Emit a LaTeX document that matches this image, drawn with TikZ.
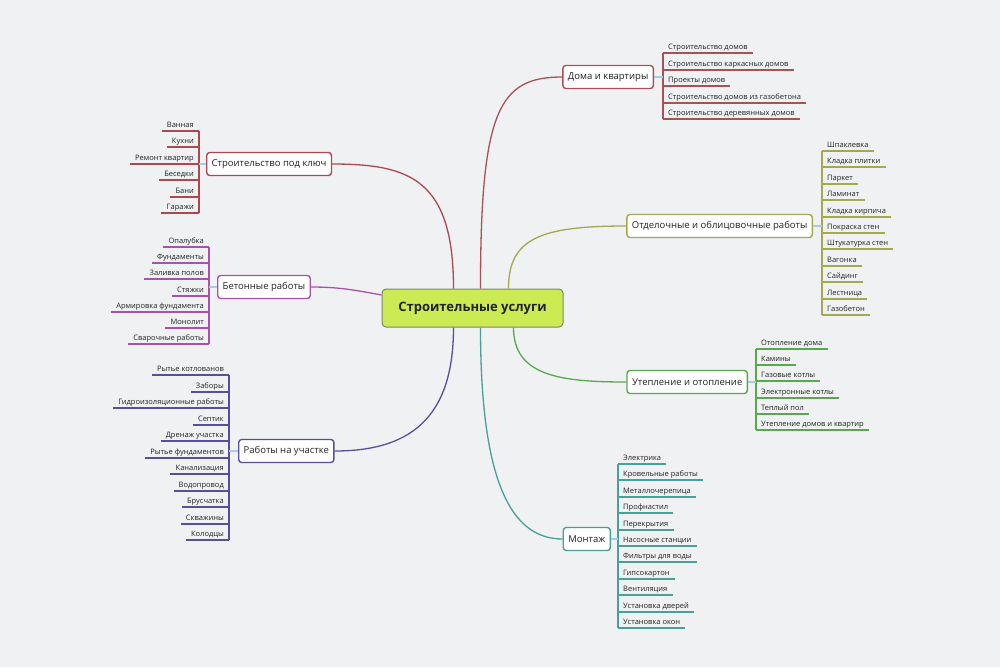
\documentclass[tikz,border=0pt]{standalone}
\usepackage{fontspec}
\setmainfont{Open Sans}
\usetikzlibrary{calc}
\definecolor{bg}{RGB}{240,241,243}
\definecolor{cRed}{RGB}{168,82,88}
\definecolor{cKey}{RGB}{172,72,82}
\definecolor{cOlive}{RGB}{165,168,78}
\definecolor{cGreen}{RGB}{88,168,78}
\definecolor{cTeal}{RGB}{72,160,150}
\definecolor{cIndigo}{RGB}{88,78,160}
\definecolor{cPurple}{RGB}{168,82,172}
\definecolor{lime}{RGB}{203,234,84}
\definecolor{limeBorder}{RGB}{125,135,100}
\definecolor{junc}{RGB}{160,205,235}
\definecolor{txt}{RGB}{35,35,35}
\tikzset{
  topic/.style={draw, line width=1.4pt, fill=white, rounded corners=3pt, inner xsep=5pt, inner ysep=0pt, minimum height=23pt, font=\fontsize{9.5}{11}\selectfont, text=txt},
  itemR/.style={anchor=south west, inner xsep=5pt, inner ysep=1.5pt, text height=6pt, text depth=2pt, font=\fontsize{7.5}{8}\selectfont, text=txt},
  itemL/.style={anchor=south east, inner xsep=5pt, inner ysep=1.5pt, text height=6pt, text depth=2pt, font=\fontsize{7.5}{8}\selectfont, text=txt},
  branch/.style={line width=1.3pt},
  spine/.style={line width=1.8pt},
  jn/.style={draw=junc, line width=1.5pt},
}
\begin{document}
\begin{tikzpicture}[x=1pt,y=-1pt]
\fill[bg] (0,0) rectangle (1000,667);
\useasboundingbox (0,0) rectangle (1000,667);

% central topic
\node[draw=limeBorder, line width=1pt, fill=lime, rounded corners=4pt, minimum width=181pt, minimum height=38pt, font=\fontsize{13}{15}\selectfont\bfseries, text=txt] (c) at (472.5,308) {Строительные услуги};

% main topics
\node[topic, draw=cRed, anchor=east] (doma) at (654,77) {Дома и квартиры};
\node[topic, draw=cOlive, anchor=east] (otd) at (813,226) {Отделочные и облицовочные работы};
\node[topic, draw=cGreen, anchor=east] (utep) at (748,382) {Утепление и отопление};
\node[topic, draw=cTeal, anchor=east] (mont) at (611,539) {Монтаж};
\node[topic, draw=cKey, anchor=west] (klyuch) at (206,164) {Строительство под ключ};
\node[topic, draw=cPurple, anchor=west] (beton) at (217,287) {Бетонные работы};
\node[topic, draw=cIndigo, anchor=west] (uch) at (238,451) {Работы на участке};

% connectors
\draw[branch, cRed] ($(c.north)+(8,0)$) .. controls +(0,-179) and +(-63,0) .. (doma.west);
\draw[branch, cKey] ($(c.north)+(-19,0)$) .. controls +(0,-109) and +(78,0) .. (klyuch.east);
\draw[branch, cOlive] ($(c.north)+(36,0)$) .. controls +(0,-50) and +(-86,0) .. (otd.west);
\draw[branch, cPurple] ($(c.west)+(0,-13)$) .. controls +(-27,-5) and +(28,0) .. (beton.east);
\draw[branch, cIndigo] ($(c.south)+(-19,0)$) .. controls +(0,93) and +(73,0) .. (uch.east);
\draw[branch, cTeal] ($(c.south)+(8,0)$) .. controls +(0,153) and +(-52,0) .. (mont.west);
\draw[branch, cGreen] ($(c.south)+(41,0)$) .. controls +(0,48) and +(-67,0) .. (utep.west);

% Дома и квартиры
\foreach \t [count=\i] in {Строительство домов, Строительство каркасных домов, Проекты домов, Строительство домов из газобетона, Строительство деревянных домов}{
  \node[itemR] (d\i) at (663,{round(53+16.5*(\i-1))}) {\t};
  \draw[spine, cRed] (d\i.south west) -- (d\i.south east);
}
\draw[spine, cRed] (d1.south west) -- (d5.south west);
\draw[jn] (doma.east) -- (doma.east -| d1.south west);

% Отделочные
\foreach \t [count=\i] in {Шпаклевка, Кладка плитки, Паркет, Ламинат, Кладка кирпича, Покраска стен, Штукатурка стен, Вагонка, Сайдинг, Лестница, Газобетон}{
  \node[itemR] (o\i) at (822,{round(151+16.4*(\i-1))}) {\t};
  \draw[spine, cOlive] (o\i.south west) -- (o\i.south east);
}
\draw[spine, cOlive] (o1.south west) -- (o11.south west);
\draw[jn] (otd.east) -- (otd.east -| o1.south west);

% Утепление
\foreach \t [count=\i] in {Отопление дома, Камины, Газовые котлы, Электронные котлы, Теплый пол, Утепление домов и квартир}{
  \node[itemR] (u\i) at (756,{round(349+16.2*(\i-1))}) {\t};
  \draw[spine, cGreen] (u\i.south west) -- (u\i.south east);
}
\draw[spine, cGreen] (u1.south west) -- (u6.south west);
\draw[jn] (utep.east) -- (utep.east -| u1.south west);

% Монтаж
\foreach \t [count=\i] in {Электрика, Кровельные работы, Металлочерепица, Профнастил, Перекрытия, Насосные станции, Фильтры для воды, Гипсокартон, Вентиляция, Установка дверей, Установка окон}{
  \node[itemR] (m\i) at (618,{round(464+16.4*(\i-1))}) {\t};
  \draw[spine, cTeal] (m\i.south west) -- (m\i.south east);
}
\draw[spine, cTeal] (m1.south west) -- (m11.south west);
\draw[jn] (mont.east) -- (mont.east -| m1.south west);

% Строительство под ключ
\foreach \t [count=\i] in {Ванная, Кухни, Ремонт квартир, Беседки, Бани, Гаражи}{
  \node[itemL] (k\i) at (199,{round(131+16.4*(\i-1))}) {\t};
  \draw[spine, cKey] (k\i.south east) -- (k\i.south west);
}
\draw[spine, cKey] (k1.south east) -- (k6.south east);
\draw[jn] (klyuch.west) -- (klyuch.west -| k1.south east);

% Бетонные работы
\foreach \t [count=\i] in {Опалубка, Фундаменты, Заливка полов, Стяжки, Армировка фундамента, Монолит, Сварочные работы}{
  \node[itemL] (b\i) at (209,{round(247+16.2*(\i-1))}) {\t};
  \draw[spine, cPurple] (b\i.south east) -- (b\i.south west);
}
\draw[spine, cPurple] (b1.south east) -- (b7.south east);
\draw[jn] (beton.west) -- (beton.west -| b1.south east);

% Работы на участке
\foreach \t [count=\i] in {Рытье котлованов, Заборы, Гидроизоляционные работы, Септик, Дренаж участка, Рытье фундаментов, Канализация, Водопровод, Брусчатка, Скважины, Колодцы}{
  \node[itemL] (r\i) at (229,{round(375+16.5*(\i-1))}) {\t};
  \draw[spine, cIndigo] (r\i.south east) -- (r\i.south west);
}
\draw[spine, cIndigo] (r1.south east) -- (r11.south east);
\draw[jn] (uch.west) -- (uch.west -| r1.south east);
\end{tikzpicture}
\end{document}
